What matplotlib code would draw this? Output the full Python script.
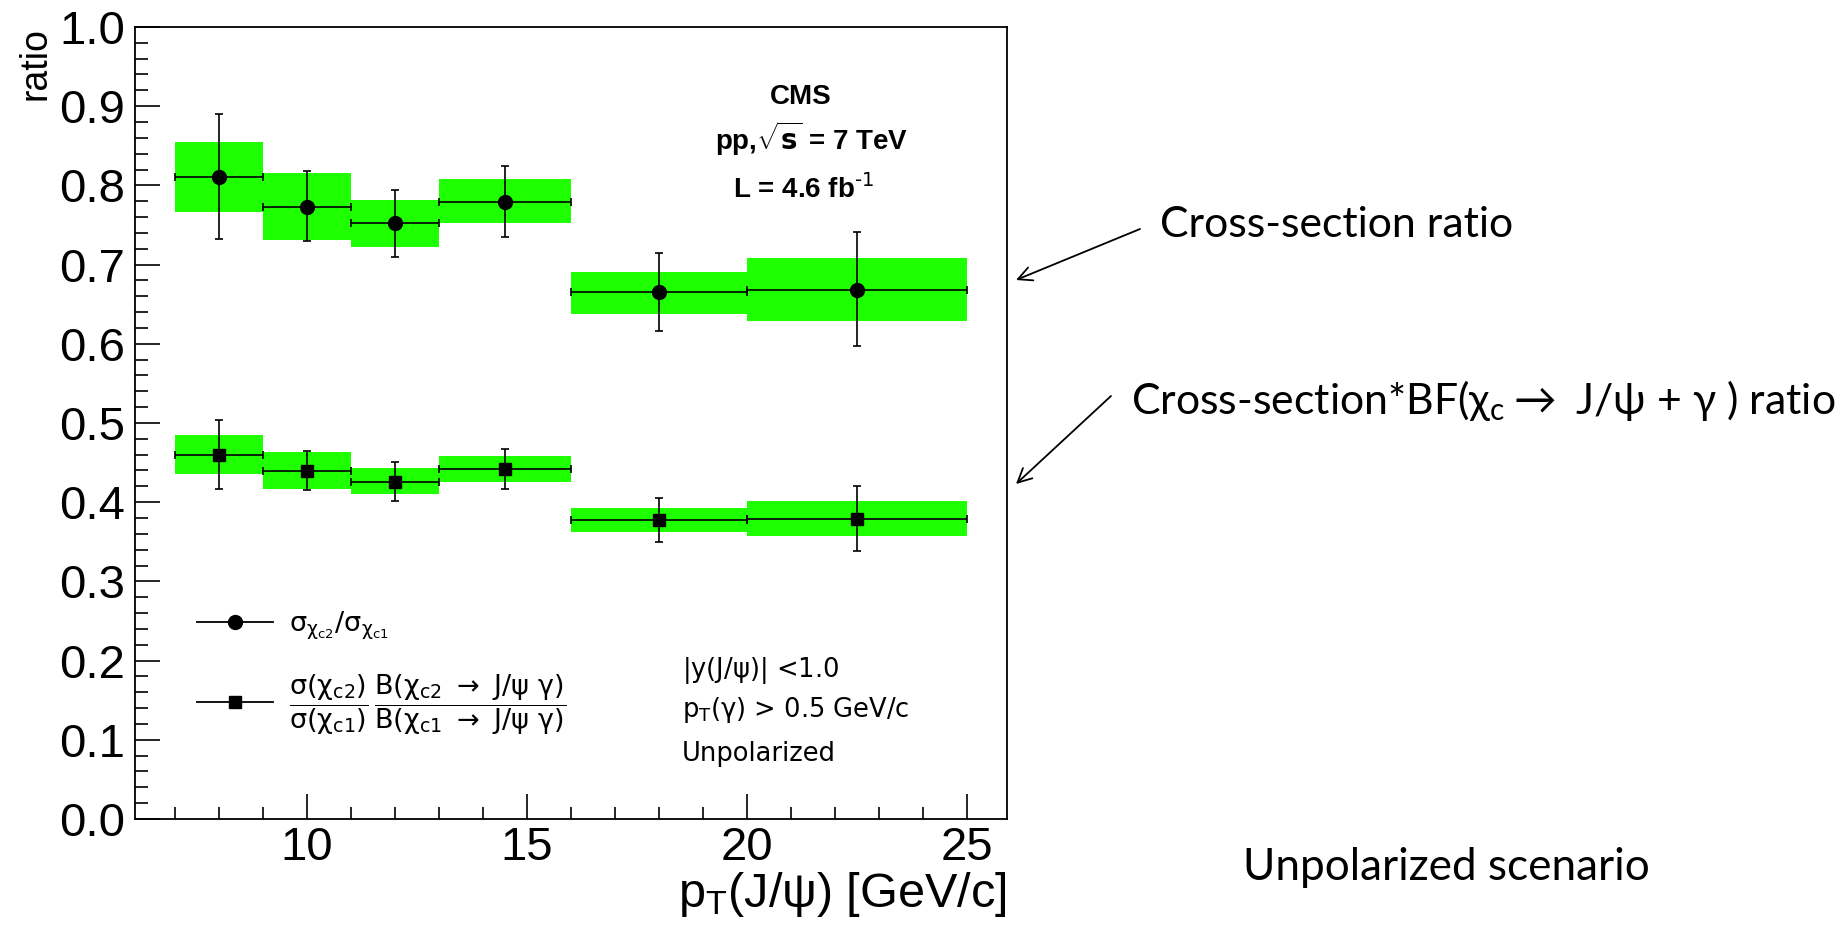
import numpy as np
import matplotlib
matplotlib.use("Agg")
import matplotlib.pyplot as plt
from matplotlib.lines import Line2D

# pT(J/psi) bins [GeV/c]
bin_lo = np.array([7, 9, 11, 13, 16, 20])
bin_hi = np.array([9, 11, 13, 16, 20, 25])
bin_center = np.array([8, 10, 12, 14.5, 18, 22.5])

# sigma(chi_c2)/sigma(chi_c1)
xs_ratio = np.array([0.811, 0.773, 0.752, 0.779, 0.665, 0.668])
xs_stat_up = np.array([0.890, 0.818, 0.794, 0.824, 0.714, 0.741])
xs_stat_dn = np.array([0.732, 0.730, 0.710, 0.735, 0.616, 0.597])
xs_syst_up = np.array([0.855, 0.815, 0.781, 0.808, 0.691, 0.708])
xs_syst_dn = np.array([0.767, 0.731, 0.722, 0.752, 0.638, 0.629])

# sigma*BF ratio
bf_ratio = np.array([0.460, 0.439, 0.426, 0.442, 0.377, 0.379])
bf_stat_up = np.array([0.504, 0.464, 0.451, 0.467, 0.405, 0.420])
bf_stat_dn = np.array([0.416, 0.415, 0.402, 0.417, 0.350, 0.338])
bf_syst_up = np.array([0.485, 0.463, 0.443, 0.458, 0.392, 0.401])
bf_syst_dn = np.array([0.435, 0.416, 0.410, 0.426, 0.362, 0.357])

GREEN = "#1eff00"

plt.rcParams["font.family"] = "Liberation Sans"
plt.rcParams["mathtext.fontset"] = "custom"
plt.rcParams["mathtext.rm"] = "DejaVu Sans"
plt.rcParams["mathtext.it"] = "DejaVu Sans:italic"
plt.rcParams["mathtext.bf"] = "DejaVu Sans:bold"
plt.rcParams["mathtext.default"] = "regular"

fig = plt.figure(figsize=(18.43, 9.30), dpi=100)
ax = fig.add_axes([0.0733, 0.1194, 0.4731, 0.8516])


def draw_series(y, st_up, st_dn, sy_up, sy_dn, marker, ms):
    ax.bar(bin_lo, sy_up - sy_dn, width=bin_hi - bin_lo, bottom=sy_dn,
           align="edge", color=GREEN, linewidth=0, zorder=1)
    ax.errorbar(bin_center, y,
                xerr=[bin_center - bin_lo, bin_hi - bin_center],
                yerr=[y - st_dn, st_up - y],
                fmt=marker, ms=ms, color="black", ecolor="black",
                elinewidth=1.2, capsize=3, capthick=1.2, zorder=3)


draw_series(xs_ratio, xs_stat_up, xs_stat_dn, xs_syst_up, xs_syst_dn, "o", 10)
draw_series(bf_ratio, bf_stat_up, bf_stat_dn, bf_syst_up, bf_syst_dn, "s", 9)

ax.set_xlim(6.1, 25.9)
ax.set_ylim(0.0, 1.0)
ax.set_xticks([10, 15, 20, 25])
ax.set_xticks(np.arange(7, 26, 1), minor=True)
ax.set_yticks(np.arange(0, 1.01, 0.1))
ax.set_yticks(np.arange(0, 1.001, 0.02), minor=True)
ax.yaxis.set_major_formatter(plt.FormatStrFormatter("%.1f"))
ax.tick_params(which="both", direction="in", top=False, right=False,
               width=1.2, labelsize=34, pad=7)
ax.tick_params(axis="x", which="both", pad=5)
ax.tick_params(which="major", length=18)
ax.tick_params(which="minor", length=9)
for s in ax.spines.values():
    s.set_linewidth(1.3)

ax.set_xlabel(r"p$_{T}$(J/$\psi$) [GeV/c]", fontsize=35, loc="right",
              labelpad=0)
ax.set_ylabel("ratio", fontsize=27, loc="top")
ax.yaxis.set_label_coords(-0.094, 1.0)

# experiment label
cms = dict(transform=ax.transAxes, ha="center", va="baseline", fontsize=20,
           fontweight="bold")
ax.text(0.764, 0.903, "CMS", **cms)
ax.text(0.776, 0.845, r"pp,$\sqrt{\mathbf{s}}$ = 7 TeV", **cms)
ax.text(0.766, 0.784, r"L = 4.6 fb$^{\text{-1}}$", **cms)

# selection cuts
cuts = dict(transform=ax.transAxes, va="baseline", fontsize=18.5,
            family="DejaVu Sans")
ax.text(0.627, 0.179, r"|y(J/$\psi$)| <1.0", **cuts)
ax.text(0.627, 0.129, r"p$_{T}$($\gamma$) > 0.5 GeV/c", **cuts)
ax.text(0.627, 0.073, "Unpolarized", **cuts)

handles = [
    Line2D([], [], color="black", lw=1.3, marker="o", ms=10),
    Line2D([], [], color="black", lw=1.3, marker="s", ms=9),
]
labels = [
    r"$\sigma_{\chi_{c2}}/\sigma_{\chi_{c1}}$",
    r"$\dfrac{\sigma(\chi_{c2})}{\sigma(\chi_{c1})}\,"
    r"\dfrac{B(\chi_{c2}\ \rightarrow\ J/\psi\ \gamma)}"
    r"{B(\chi_{c1}\ \rightarrow\ J/\psi\ \gamma)}$",
]
ax.legend(handles, labels, loc="center left", bbox_to_anchor=(0.071, 0.184),
          frameon=False, prop={"family": "DejaVu Sans", "size": 19.5},
          handlelength=2.8, handletextpad=0.6, labelspacing=1.1,
          borderpad=0, borderaxespad=0)

# annotations next to the frame
fig.text(1160 / 1843, 1 - 225 / 930, "Cross-section ratio", family="Lato",
         fontsize=30.8, va="center")
fig.text(1131 / 1843, 1 - 400 / 930,
         r"Cross-section*BF($\chi_{c}\rightarrow$ J/$\psi$ + $\gamma$ ) ratio",
         family="Lato", fontsize=30.8, va="center")
fig.text(1243 / 1843, 1 - 867 / 930, "Unpolarized scenario", family="Lato",
         fontsize=31.8, va="center")

arrow = dict(arrowstyle="->,head_length=1.0,head_width=0.5", color="black",
             lw=1.3, shrinkA=0, shrinkB=0)
fig.add_artist(plt.Annotation("", xy=(1016 / 1843, 1 - 280 / 930),
                              xytext=(1140 / 1843, 1 - 229 / 930),
                              xycoords="figure fraction",
                              textcoords="figure fraction", arrowprops=arrow))
fig.add_artist(plt.Annotation("", xy=(1016 / 1843, 1 - 484 / 930),
                              xytext=(1111 / 1843, 1 - 396 / 930),
                              xycoords="figure fraction",
                              textcoords="figure fraction", arrowprops=arrow))

fig.savefig("out.png", dpi=100)
